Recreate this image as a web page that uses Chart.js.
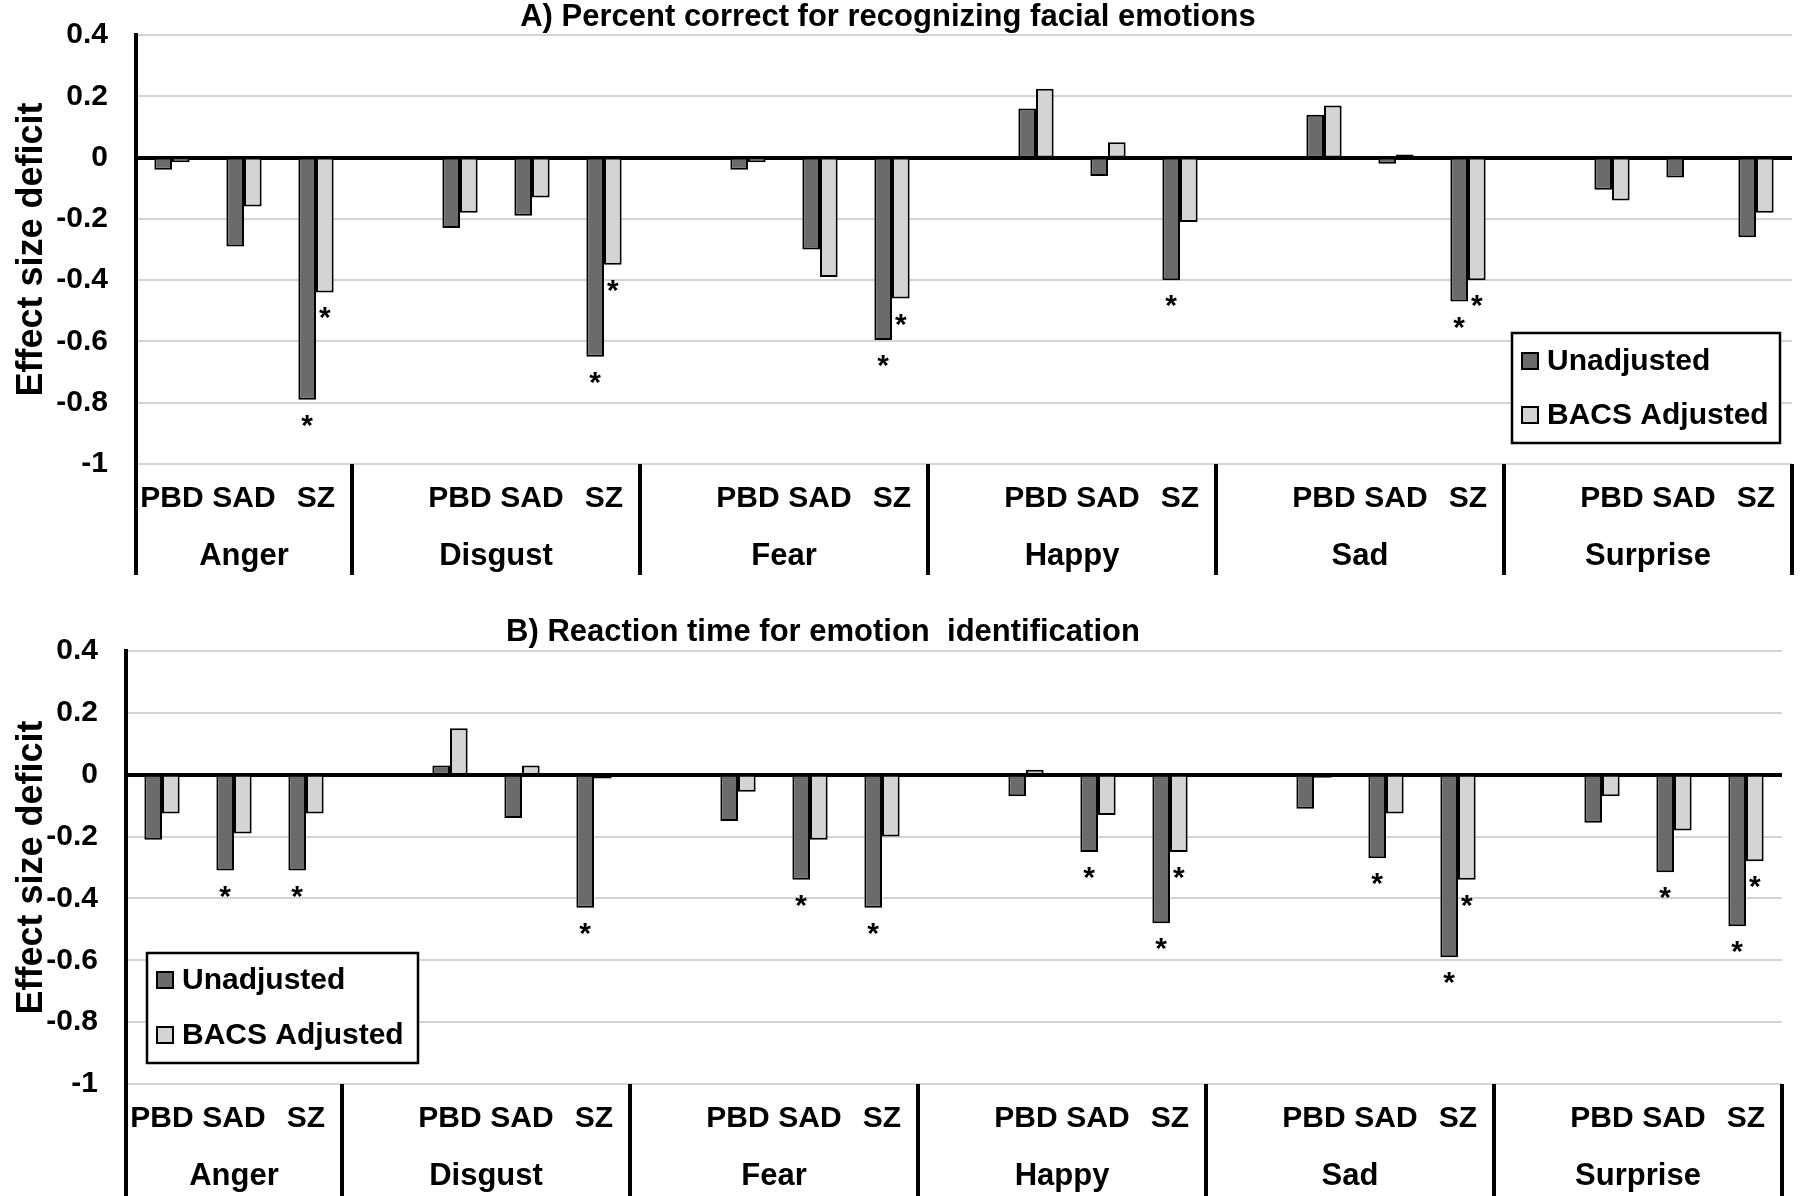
<!DOCTYPE html>
<html>
<head>
<meta charset="utf-8">
<title>Effect size deficits</title>
<script src="https://cdn.jsdelivr.net/npm/chart.js@4.4.1/dist/chart.umd.min.js"></script>
<style>
  body { margin: 0; background: #fff; }
  canvas { position: absolute; left: 0; }
  #chartA { top: 0; }
  #chartB { top: 596px; }
</style>
</head>
<body>
<canvas id="chartA" width="1800" height="596"></canvas>
<canvas id="chartB" width="1800" height="600"></canvas>
<script>
// Categories
const emotions = ["Anger", "Disgust", "Fear", "Happy", "Sad", "Surprise"];
const groups = ["PBD", "SAD", "SZ"];
const seriesNames = ["Unadjusted", "BACS Adjusted"];

// Y axis ticks
const yMin = -1;
const yMax = 0.4;
const yStep = 0.2;

// A) Percent correct (emotion by emotion: PBD, SAD, SZ)
const percentUnadjusted = [-0.04, -0.29, -0.79, -0.23, -0.19, -0.65, -0.04, -0.30, -0.595, 0.16, -0.06, -0.40, 0.14, -0.02, -0.47, -0.105, -0.065, -0.26];
const percentAdjusted = [-0.015, -0.16, -0.44, -0.18, -0.13, -0.35, -0.015, -0.39, -0.46, 0.225, 0.05, -0.21, 0.17, 0.01, -0.40, -0.14, 0, -0.18];
const percentStarUnadj = [0, 0, 1, 0, 0, 1, 0, 0, 1, 0, 0, 1, 0, 0, 1, 0, 0, 0];
const percentStarAdj = [0, 0, 1, 0, 0, 1, 0, 0, 1, 0, 0, 0, 0, 0, 1, 0, 0, 0];

// B) Reaction time
const rtUnadjusted = [-0.21, -0.31, -0.31, 0.03, -0.14, -0.43, -0.15, -0.34, -0.43, -0.07, -0.25, -0.48, -0.11, -0.27, -0.59, -0.155, -0.315, -0.49];
const rtAdjusted = [-0.125, -0.19, -0.125, 0.15, 0.03, -0.012, -0.055, -0.21, -0.20, 0.016, -0.13, -0.25, -0.01, -0.125, -0.34, -0.07, -0.18, -0.28];
const rtStarUnadj = [0, 1, 1, 0, 0, 1, 0, 1, 1, 0, 1, 1, 0, 1, 1, 0, 1, 1];
const rtStarAdj = [0, 0, 0, 0, 0, 0, 0, 0, 0, 0, 0, 1, 0, 0, 1, 0, 0, 1];

const FONT = '"Liberation Sans", Arial, sans-serif';
const darkFill = "#6b6b6b";
const lightFill = "#d4d4d4";

Chart.defaults.font.family = FONT;
Chart.defaults.font.weight = "bold";
Chart.defaults.color = "#000";

// every emotion after the first gets an empty slot in front of it
function toSlots(values) {
  const out = [];
  emotions.forEach((e, i) => {
    if (i > 0) out.push(null);
    groups.forEach((g, j) => out.push(values[i * groups.length + j]));
  });
  return out;
}
const slotLabels = toSlots(emotions.flatMap(() => groups)).map(v => v || "");

// first and last slot of each emotion block
function blockRanges() {
  const ranges = [];
  let pos = 0;
  emotions.forEach((e, i) => {
    const start = pos;
    pos += groups.length + (i > 0 ? 1 : 0);
    ranges.push([start, pos - 1]);
  });
  return ranges;
}

const panelTitle = {
  id: "panelTitle",
  afterDraw(chart, args, opts) {
    const ctx = chart.ctx;
    ctx.save();
    ctx.font = "bold 31px " + FONT;
    ctx.fillStyle = "#000";
    ctx.textAlign = "center";
    ctx.textBaseline = "middle";
    ctx.fillText(opts.text, opts.x, opts.y);
    ctx.restore();
  }
};

const groupAxis = {
  id: "groupAxis",
  afterDraw(chart, args, opts) {
    const ctx = chart.ctx;
    const x = chart.scales.x;
    const bottom = chart.chartArea.bottom;
    const half = (x.getPixelForValue(1) - x.getPixelForValue(0)) / 2;
    ctx.save();
    ctx.strokeStyle = "#000";
    ctx.lineWidth = 4;
    ctx.font = "bold 31px " + FONT;
    ctx.fillStyle = "#000";
    ctx.textAlign = "center";
    ctx.textBaseline = "middle";
    blockRanges().forEach(([s, e], i) => {
      const left = x.getPixelForValue(s) - half;
      const right = x.getPixelForValue(e) + half;
      [left, right].forEach(px => {
        ctx.beginPath();
        ctx.moveTo(px, bottom);
        ctx.lineTo(px, opts.lineEnd);
        ctx.stroke();
      });
      ctx.fillText(emotions[i], (left + right) / 2, bottom + opts.labelOffset);
    });
    ctx.restore();
  }
};

const starMarks = {
  id: "starMarks",
  afterDatasetsDraw(chart, args, opts) {
    const ctx = chart.ctx;
    ctx.save();
    ctx.font = "bold 30px " + FONT;
    ctx.fillStyle = "#000";
    ctx.textAlign = "center";
    ctx.textBaseline = "alphabetic";
    chart.data.datasets.forEach((ds, d) => {
      chart.getDatasetMeta(d).data.forEach((bar, i) => {
        if (ds.stars[i]) ctx.fillText("*", bar.x, bar.y + opts.offset);
      });
    });
    ctx.restore();
  }
};

const boxLegend = {
  id: "boxLegend",
  afterDraw(chart, args, opts) {
    const ctx = chart.ctx;
    const b = opts.box;
    ctx.save();
    ctx.fillStyle = "#fff";
    ctx.fillRect(b.x, b.y, b.w, b.h);
    ctx.strokeStyle = "#000";
    ctx.lineWidth = 2.5;
    ctx.strokeRect(b.x, b.y, b.w, b.h);
    ctx.font = "bold 30px " + FONT;
    ctx.textBaseline = "middle";
    ctx.textAlign = "left";
    chart.data.datasets.forEach((ds, i) => {
      const cy = b.y + opts.firstRow + i * opts.rowGap;
      ctx.fillStyle = ds.backgroundColor;
      ctx.fillRect(b.x + 10, cy - 8, 16, 16);
      ctx.lineWidth = 2;
      ctx.strokeRect(b.x + 10, cy - 8, 16, 16);
      ctx.fillStyle = "#000";
      ctx.fillText(ds.label, b.x + 35, cy + 1);
    });
    ctx.restore();
  }
};

function makePanel(canvasId, p) {
  const canvas = document.getElementById(canvasId);
  const H = canvas.height;
  return new Chart(canvas, {
    type: "bar",
    data: {
      labels: slotLabels,
      datasets: [
        { label: seriesNames[0], data: toSlots(p.unadjusted), stars: toSlots(p.starsUnadj), backgroundColor: darkFill },
        { label: seriesNames[1], data: toSlots(p.adjusted), stars: toSlots(p.starsAdj), backgroundColor: lightFill }
      ]
    },
    options: {
      responsive: false,
      animation: false,
      devicePixelRatio: 1,
      layout: { padding: { top: p.area.top, right: 1800 - p.area.right, left: 0, bottom: 0 } },
      datasets: {
        bar: { categoryPercentage: 0.49, barPercentage: 1, borderColor: "#000", borderWidth: 2, borderSkipped: false }
      },
      scales: {
        x: {
          grid: { display: false },
          border: { display: false },
          ticks: { font: { size: 30, weight: "bold" }, padding: 9, autoSkip: false, maxRotation: 0 },
          afterFit: s => { s.height = H - p.area.bottom; s.paddingLeft = 0; s.paddingRight = 0; }
        },
        y: {
          min: yMin,
          max: yMax,
          ticks: {
            stepSize: yStep,
            padding: 28,
            font: { size: 30, weight: "bold" },
            callback: v => String(Math.round(v * 10) / 10)
          },
          grid: {
            drawTicks: false,
            color: c => Math.abs(c.tick.value) < 1e-9 ? "#000" : "#d4d4d4",
            lineWidth: c => Math.abs(c.tick.value) < 1e-9 ? 4 : 2
          },
          border: { color: "#000", width: 4 },
          title: {
            display: true,
            text: "Effect size deficit",
            font: { size: 36, weight: "bold" },
            padding: { top: 10, bottom: 0 }
          },
          afterFit: s => { s.width = p.area.left; s.paddingTop = 0; s.paddingBottom = 0; }
        }
      },
      plugins: {
        legend: { display: false },
        tooltip: { enabled: false },
        panelTitle: { text: p.title, x: p.titleX, y: p.titleY },
        groupAxis: { labelOffset: 92, lineEnd: p.lineEnd },
        starMarks: { offset: 35 },
        boxLegend: p.legend
      }
    },
    plugins: [panelTitle, groupAxis, starMarks, boxLegend]
  });
}

makePanel("chartA", {
  title: "A) Percent correct for recognizing facial emotions",
  titleX: 888, titleY: 17,
  unadjusted: percentUnadjusted, adjusted: percentAdjusted,
  starsUnadj: percentStarUnadj, starsAdj: percentStarAdj,
  area: { left: 136, right: 1792, top: 35, bottom: 464 },
  lineEnd: 575,
  legend: { box: { x: 1512, y: 333, w: 268, h: 110 }, firstRow: 28, rowGap: 54 }
});

makePanel("chartB", {
  title: "B) Reaction time for emotion  identification",
  titleX: 823, titleY: 36,
  unadjusted: rtUnadjusted, adjusted: rtAdjusted,
  starsUnadj: rtStarUnadj, starsAdj: rtStarAdj,
  area: { left: 126, right: 1782, top: 55, bottom: 488 },
  lineEnd: 600,
  legend: { box: { x: 147, y: 357, w: 271, h: 110 }, firstRow: 27, rowGap: 55 }
});
</script>
</body>
</html>
